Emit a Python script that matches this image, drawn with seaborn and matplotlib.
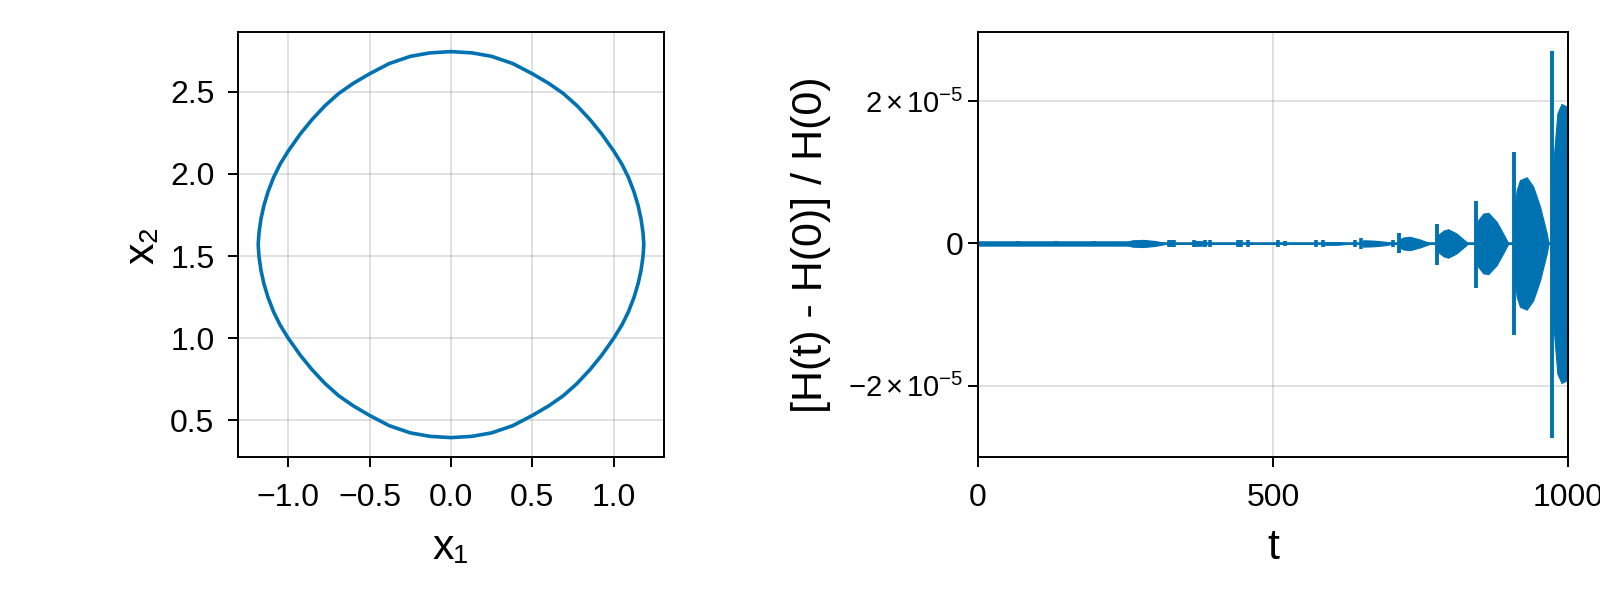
import matplotlib
matplotlib.use("Agg")
import matplotlib.pyplot as plt
import seaborn as sns
import pandas as pd

# orbit in the (x1, x2) plane, counter-clockwise starting at the top
x1 = [0.00, -0.13, -0.25, -0.38, -0.50, -0.60, -0.69, -0.775, -0.855, -0.925, -1.00, -1.05, -1.09, -1.125, -1.15, -1.168, -1.18, -1.185,
      -1.18, -1.168, -1.15, -1.125, -1.09, -1.05, -1.00, -0.925, -0.855, -0.775, -0.69, -0.60, -0.50, -0.38, -0.25, -0.13, 0.00,
      0.13, 0.25, 0.38, 0.50, 0.60, 0.69, 0.775, 0.855, 0.925, 1.00, 1.05, 1.09, 1.125, 1.15, 1.168, 1.18,
      1.185, 1.18, 1.168, 1.15, 1.125, 1.09, 1.05, 1.00, 0.925, 0.855, 0.775, 0.69, 0.60, 0.50, 0.38, 0.25, 0.13, 0.00]
x2 = [2.745, 2.737, 2.716, 2.672, 2.61, 2.552, 2.49, 2.415, 2.33, 2.245, 2.14, 2.06, 1.98, 1.89, 1.807, 1.726, 1.642, 1.57,
      1.498, 1.414, 1.333, 1.25, 1.16, 1.08, 1.00, 0.895, 0.81, 0.725, 0.65, 0.588, 0.53, 0.468, 0.424, 0.403, 0.395,
      0.403, 0.424, 0.468, 0.53, 0.588, 0.65, 0.725, 0.81, 0.895, 1.00, 1.08, 1.16, 1.25, 1.333, 1.414, 1.498,
      1.57, 1.642, 1.726, 1.807, 1.89, 1.98, 2.06, 2.14, 2.245, 2.33, 2.415, 2.49, 2.552, 2.61, 2.672, 2.716, 2.737, 2.745]

# relative energy error, in units of 1e-6
# envelope of the fast oscillation
t_env = [0, 255, 262, 280, 300, 316, 320, 362, 366, 380, 394, 584, 586, 610, 636, 651, 653, 670, 690, 706,
         713, 715, 721, 732, 749, 766, 770,
         779, 780, 783, 789, 797, 811, 823, 831,
         844, 845, 848, 856.5, 865, 879, 890, 899,
         909, 910, 913, 918.6, 930, 941, 952.5, 964, 967,
         973, 975, 982, 989, 996, 1000]
err_hi = [0.30, 0.30, 0.45, 0.50, 0.35, 0.10, 0.0, 0.0, 0.35, 0.30, 0.0, 0.0, 0.20, 0.18, 0.0, 0.0, 0.45, 0.40, 0.25, 0.0,
          0.0, 0.60, 0.84, 0.94, 0.56, 0.05, 0.0,
          0.0, 1.2, 1.4, 1.8, 2.0, 1.4, 0.56, 0.0,
          0.0, 2.5, 3.3, 4.2, 4.3, 3.05, 1.4, 0.0,
          0.0, 5.0, 7.5, 8.9, 9.3, 8.0, 5.2, 1.4, 0.0,
          0.0, 11.2, 18.3, 19.6, 19.3, 19.0]
err_lo = [-0.30, -0.30, -0.45, -0.50, -0.35, -0.10, 0.0, 0.0, -0.35, -0.30, 0.0, 0.0, -0.20, -0.18, 0.0, 0.0, -0.45, -0.40, -0.25, 0.0,
          0.0, -0.60, -0.84, -0.94, -0.56, -0.05, 0.0,
          0.0, -1.2, -1.4, -1.8, -2.0, -1.4, -0.56, 0.0,
          0.0, -2.5, -3.3, -4.2, -4.3, -3.05, -1.4, 0.0,
          0.0, -5.0, -7.5, -8.9, -9.3, -8.0, -5.2, -1.4, 0.0,
          0.0, -11.2, -18.3, -19.6, -19.3, -19.0]
# tall isolated spikes
t_spike = [713, 777.5, 843.5, 908.5, 973.5]
spike_hi = [1.4, 2.8, 6.0, 12.8, 27.0]
spike_lo = [-1.4, -3.05, -6.2, -12.9, -27.3]
# small beads along the baseline
t_bead = [68, 132, 197, 260, 323, 328, 332, 366, 385, 393, 440, 446, 458, 508, 521, 573, 584, 639, 649, 704]
bead_hi = [0.3, 0.3, 0.3, 0.4, 0.45, 0.45, 0.45, 0.5, 0.45, 0.45, 0.45, 0.45, 0.45, 0.45, 0.4, 0.45, 0.45, 0.5, 0.75, 0.5]
bead_lo = [-0.3, -0.3, -0.3, -0.4, -0.45, -0.45, -0.45, -0.5, -0.45, -0.45, -0.45, -0.45, -0.45, -0.45, -0.4, -0.45, -0.45, -0.5, -0.75, -0.5]

sci_ticks = [-20, 0, 20]
sci_labels = [r"$-2\,{\times}\,10^{-5}$", "0", r"$2\,{\times}\,10^{-5}$"]

blue = "#0072B2"

sns.set_theme(style="white")
plt.rcParams["font.family"] = ["Liberation Sans", "DejaVu Sans"]
plt.rcParams["mathtext.fontset"] = "custom"
plt.rcParams["mathtext.rm"] = "Liberation Sans"
plt.rcParams["mathtext.it"] = "Liberation Sans"
plt.rcParams["axes.unicode_minus"] = True
plt.rcParams["text.color"] = "black"
plt.rcParams["axes.labelcolor"] = "black"
plt.rcParams["xtick.color"] = "black"
plt.rcParams["ytick.color"] = "black"

fig = plt.figure(figsize=(16, 6), dpi=100)
ax1 = fig.add_axes([0.14875, 0.2383, 0.26625, 0.7083])
ax2 = fig.add_axes([0.61125, 0.2383, 0.36875, 0.7083])

for ax, ypad in ((ax1, 10), (ax2, 3.5)):
    ax.grid(True, color="black", alpha=0.12, linewidth=1.4)
    ax.set_axisbelow(True)
    for s in ax.spines.values():
        s.set_color("black")
        s.set_linewidth(1.4)
    ax.tick_params(axis="both", direction="out", length=7, width=1.4, colors="black",
                   labelsize=23, bottom=True, left=True, top=False, right=False)
    ax.tick_params(axis="x", pad=11.5)
    ax.tick_params(axis="y", pad=ypad)

# left: phase portrait
orbit = pd.DataFrame({"x1": x1, "x2": x2})
sns.lineplot(data=orbit, x="x1", y="x2", sort=False, estimator=None, color=blue,
             linewidth=2.6, solid_joinstyle="round", ax=ax1)
ax1.set_xlim(-1.309, 1.309)
ax1.set_ylim(0.277, 2.864)
ax1.set_xticks([-1.0, -0.5, 0.0, 0.5, 1.0])
ax1.set_yticks([0.5, 1.0, 1.5, 2.0, 2.5])
ax1.set_xticklabels(["\u22121.0", "\u22120.5", "0.0", "0.5", "1.0"])
ax1.set_yticklabels(["0.5", "1.0", "1.5", "2.0", "2.5"])
ax1.set_xlabel("x\u2081", fontsize=31)
ax1.set_ylabel("x\u2082", fontsize=31)

# right: energy error
base = pd.DataFrame({"t": [0, 1000], "e": [0, 0]})
sns.lineplot(data=base, x="t", y="e", color=blue, linewidth=1.1, ax=ax2)
ax2.fill_between(t_env, err_lo, err_hi, color=blue, linewidth=0.8, edgecolor=blue)
ax2.vlines(t_spike, spike_lo, spike_hi, color=blue, linewidth=2.8)
ax2.vlines(t_bead, bead_lo, bead_hi, color=blue, linewidth=2.6)
ax2.set_xlim(0, 1000)
ax2.set_ylim(-30.0, 29.7)
ax2.set_xticks([0, 500, 1000])
ax2.set_xticklabels(["0", "500", "1000"])
ax2.set_yticks(sci_ticks)
ax2.set_yticklabels(sci_labels)
for lab in ax2.get_yticklabels():
    if lab.get_text() != "0":
        lab.set_fontsize(21)
ax2.set_xlabel("t", fontsize=31)
ax2.set_ylabel("[H(t) - H(0)] / H(0)", fontsize=31)

for ax, ylx in ((ax1, -0.223), (ax2, -0.283)):
    ax.xaxis.label.set_va("center")
    ax.xaxis.set_label_coords(0.5, -0.214)
    ax.yaxis.label.set_va("center")
    ax.yaxis.set_label_coords(ylx, 0.5)

fig.savefig("out.png", dpi=100)
